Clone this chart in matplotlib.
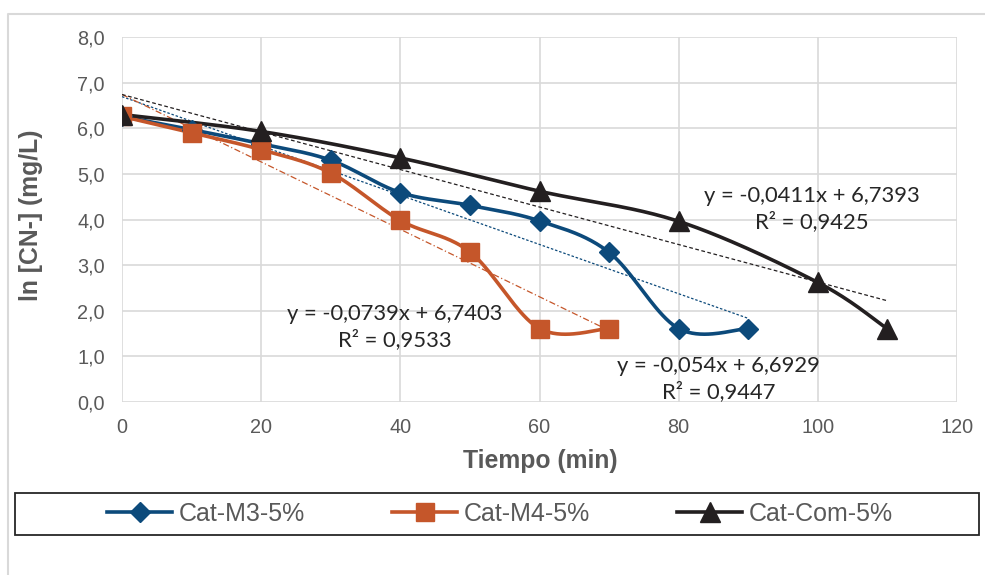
import numpy as np
import matplotlib.pyplot as plt
from matplotlib.lines import Line2D
from matplotlib.patches import Rectangle

# Data
time_m3 = [0, 10, 20, 30, 40, 50, 60, 70, 80, 90]
cn_m3 = [6.26, 5.97, 5.66, 5.30, 4.59, 4.31, 3.97, 3.28, 1.61, 1.61]
time_m4 = [0, 10, 20, 30, 40, 50, 60, 70]
cn_m4 = [6.26, 5.90, 5.53, 5.02, 3.98, 3.29, 1.61, 1.61]
time_com = [0, 20, 40, 60, 80, 100, 110]
cn_com = [6.30, 5.93, 5.35, 4.62, 3.96, 2.62, 1.60]

labels = ['Cat-M3-5%', 'Cat-M4-5%', 'Cat-Com-5%']
slopes = [-0.054, -0.0739, -0.0411]
intercepts = [6.6929, 6.7403, 6.7393]
r2 = [0.9447, 0.9533, 0.9425]

colors = ['#0C4A7B', '#C5562A', '#231F20']
grey = '#595959'


def smooth(x, y, n=40):
    # Excel-like smoothed line (Catmull-Rom through the points)
    p = np.column_stack([x, y]).astype(float)
    out = []
    for i in range(len(p) - 1):
        p0 = p[i - 1] if i > 0 else p[i]
        p1, p2 = p[i], p[i + 1]
        p3 = p[i + 2] if i + 2 < len(p) else p[i + 1]
        c1 = p1 + (p2 - p0) / 6
        c2 = p2 - (p3 - p1) / 6
        t = np.linspace(0, 1, n)[:, None]
        seg = ((1 - t)**3 * p1 + 3 * (1 - t)**2 * t * c1
               + 3 * (1 - t) * t**2 * c2 + t**3 * p2)
        out.append(seg)
    s = np.vstack(out)
    return s[:, 0], s[:, 1]


def fmt(v):
    return f'{v:g}'.replace('.', ',')


fig = plt.figure(figsize=(9.85, 5.75), dpi=100)
ax = fig.add_axes([122/985, 1 - 402/575, 835/985, 365/575])

series = [(time_m3, cn_m3, 'D', 10.5), (time_m4, cn_m4, 's', 13.5), (time_com, cn_com, '^', 14.5)]
trend_styles = [(0, (2, 1.5)), (0, (5, 2, 1, 2)), (0, (3, 2))]

for i, (x, y, mk, ms) in enumerate(series):
    xs, ys = smooth(x, y)
    ax.plot(xs, ys, color=colors[i], lw=2.6, zorder=3)
    ax.plot(x, y, ls='none', marker=mk, ms=ms, color=colors[i], zorder=4)
    xt = np.array([x[0], x[-1]])
    ax.plot(xt, slopes[i] * xt + intercepts[i], color=colors[i], lw=0.9,
            ls=trend_styles[i], zorder=2)

# trendline equations
eq_pos = [(85.7, 0.50), (39.2, 1.64), (99.2, 4.23)]
for i, (ex, ey) in enumerate(eq_pos):
    ax.text(ex, ey, f'y = {fmt(slopes[i])}x + {fmt(intercepts[i])}\nR² = {fmt(r2[i])}',
            ha='center', va='center', multialignment='center', fontsize=15.8,
            family='Lato', color='#262626', linespacing=1.3, zorder=5)

ax.set_xlim(0, 120)
ax.set_ylim(0, 8)
ax.set_xticks(range(0, 121, 20))
ax.set_yticks(np.arange(0, 8.1, 1))
ax.set_yticklabels([f'{v:.1f}'.replace('.', ',') for v in np.arange(0, 8.1, 1)])
ax.grid(True, color='#D9D9D9', lw=1.2)
ax.set_axisbelow(True)
for sp in ax.spines.values():
    sp.set_visible(False)
ax.tick_params(length=0, labelsize=14.3, labelcolor=grey)
ax.tick_params(axis='y', pad=12.5)
ax.tick_params(axis='x', pad=11.5)
for lab in ax.get_xticklabels() + ax.get_yticklabels():
    lab.set_family('Liberation Sans')

fig.text(540/985, 1 - 461/575, 'Tiempo (min)', ha='center', va='center',
         fontsize=17.8, fontweight='bold', color=grey, family='Liberation Sans')
fig.text(31/985, 1 - 215/575, 'ln [CN-] (mg/L)', ha='center', va='center',
         rotation=90, fontsize=17.8, fontweight='bold', color=grey, family='Liberation Sans')

# outer chart border
fig.add_artist(Line2D([8/985, 8/985, 1], [0, 1 - 14/575, 1 - 14/575],
                      transform=fig.transFigure, color='#D9D9D9', lw=1.5))

# legend box
fig.add_artist(Rectangle((15/985, 1 - 535/575), 964/985, 42/575, transform=fig.transFigure,
                         fill=False, edgecolor='#262626', lw=1.3))
handles = [Line2D([], [], color=colors[i], lw=2.6, marker=s[2], ms=s[3] * 0.95)
           for i, s in enumerate(series)]
fig.legend(handles, labels, loc='center', bbox_to_anchor=(500/985, 1 - 514/575), ncol=3,
           frameon=False, prop={'family': 'Liberation Sans', 'size': 18},
           labelcolor=grey, handlelength=2.6, handletextpad=0.25, columnspacing=3.5)

fig.savefig('out.png', dpi=100)
